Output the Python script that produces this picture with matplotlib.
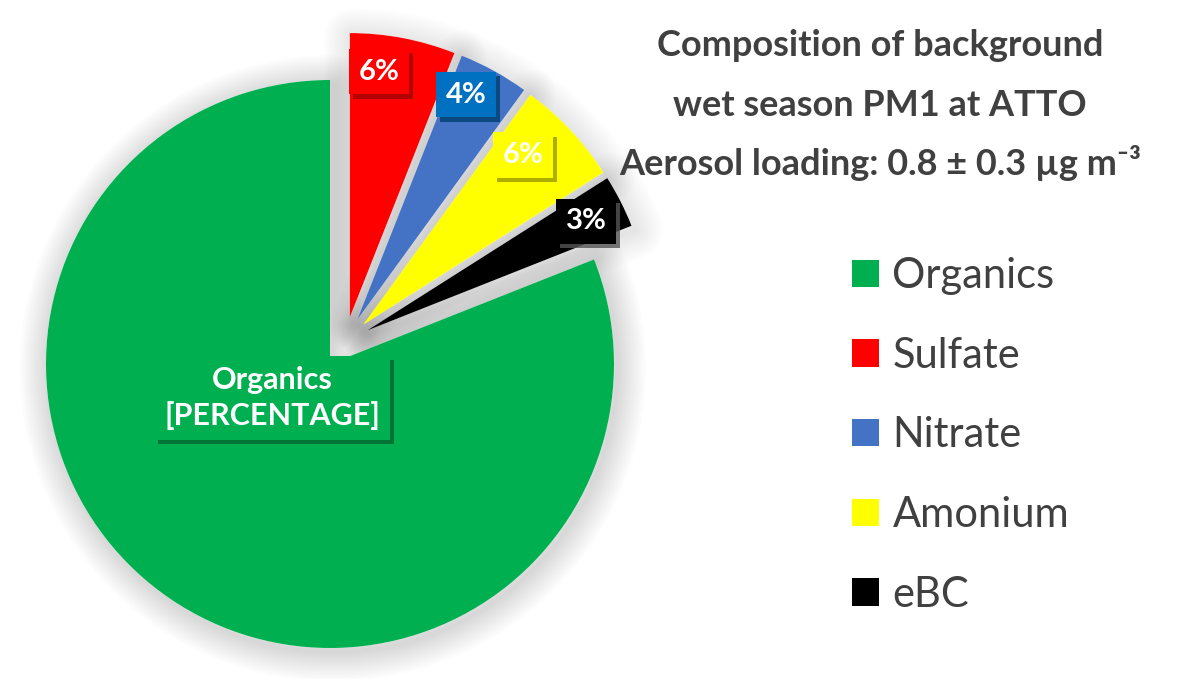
import numpy as np
import matplotlib
matplotlib.use("Agg")
import matplotlib.pyplot as plt
import matplotlib.patheffects as pe
from matplotlib.patches import Patch

# ---------------- data ----------------
categories = ["Organics", "Sulfate", "Nitrate", "Amonium", "eBC"]
percentages = [81, 6, 4, 6, 3]
colors = ["#00B050", "#FF0000", "#4472C4", "#FFFF00", "#000000"]
data_labels = ["Organics\n[PERCENTAGE]", "6%", "4%", "6%", "3%"]
label_box_colors = ["#00B050", "#FF0000", "#0070C0", "#FFFF00", "#000000"]
label_shadow_colors = ["#00662E", "#A00000", "#003F70", "#9A9A00", "#555555"]
title_lines = ["Composition of background",
               "wet season PM1 at ATTO",
               "Aerosol loading: 0.8 ± 0.3 µg m⁻³"]

# ---------------- style ----------------
plt.rcParams["font.family"] = ["Lato", "DejaVu Sans"]
TXT = "#404040"

W, H = 1200, 679
fig = plt.figure(figsize=(12, 6.79), dpi=100)
ax = fig.add_axes([0, 0, 1, 1])

# drawing order counter-clockwise from 12 o'clock: Organics, eBC, Amonium, Nitrate, Sulfate
order = [0, 4, 3, 2, 1]
vals = [percentages[i] for i in order]
cols = [colors[i] for i in order]
cx, cy, R = 330, H - 364, 284
explode = [0] + [25] * 4

small_total = sum(percentages[1:])
group_ang = np.deg2rad(90 - small_total / 100 * 360 / 2)
gdx, gdy = 27 * np.cos(group_ang), 27 * np.sin(group_ang)


def shift_small(wedges):
    for k, w in enumerate(wedges):
        if k > 0:
            x0, y0 = w.center
            w.set_center((x0 + gdx, y0 + gdy))


# soft shadow pie underneath
sh_w, _ = ax.pie(vals, colors=["white"] * 5, startangle=90, counterclock=True,
                 center=(cx, cy), radius=R, explode=explode, frame=True,
                 wedgeprops=dict(linewidth=0))
shift_small(sh_w)
for k, w in enumerate(sh_w):
    a = 0.011 if k == 0 else 0.0065
    glow = [pe.Stroke(offset=(2, -3), linewidth=lw, foreground="black", alpha=a,
                      joinstyle="round") for lw in np.linspace(42, 3, 13)]
    w.set_path_effects(glow + [pe.Normal()])
    w.set_zorder(1)

wedges, _ = ax.pie(vals, colors=cols, startangle=90, counterclock=True,
                   center=(cx, cy), radius=R, explode=explode, frame=True,
                   wedgeprops=dict(linewidth=0))
shift_small(wedges)
for w in wedges:
    w.set_zorder(2)
ax.set_xlim(0, W)
ax.set_ylim(0, H)
ax.set_aspect("equal")
ax.axis("off")

# data labels (distance as fraction of radius, angular nudge in degrees)
label_dist = [None, 0.86, 0.82, 0.88, 0.87]
label_nudge = [None, -0.5, 3.5, 3.0, 4.0]
for k, w in enumerate(wedges):
    idx = order[k]
    if k == 0:
        x, y = cx - 58, cy - 34
        ls, fs = 1.3, 22
    else:
        th = np.deg2rad((w.theta1 + w.theta2) / 2 + label_nudge[k])
        x0, y0 = w.center
        x = x0 + label_dist[k] * R * np.cos(th)
        y = y0 + label_dist[k] * R * np.sin(th)
        ls, fs = 1.0, 21
    t = ax.text(x, y, data_labels[idx], ha="center", va="center", color="white",
                fontsize=fs, fontweight="bold", linespacing=ls, zorder=5,
                bbox=dict(boxstyle="square,pad=0.33", fc=label_box_colors[idx], ec="none"))
    t.get_bbox_patch().set_path_effects([
        pe.SimplePatchShadow(offset=(3, -3), shadow_rgbFace=label_shadow_colors[idx], alpha=0.8),
        pe.Normal()])

# title
title_y = [45, 105, 163]
for line, yy in zip(title_lines, title_y):
    ax.text(880, H - yy, line, ha="center", va="center", color=TXT,
            fontsize=26, fontweight="bold", zorder=6)

# legend
handles = [Patch(facecolor=c, edgecolor="none") for c in colors]
leg = fig.legend(handles, categories, loc="upper left", bbox_to_anchor=(852 / W, 1 - 257 / H),
                 frameon=False, fontsize=30, handlelength=0.64, handleheight=0.64,
                 handletextpad=0.33, labelspacing=1.0, borderaxespad=0, borderpad=0)
for txt in leg.get_texts():
    txt.set_color(TXT)

fig.savefig("out.png", dpi=100, facecolor="white")
